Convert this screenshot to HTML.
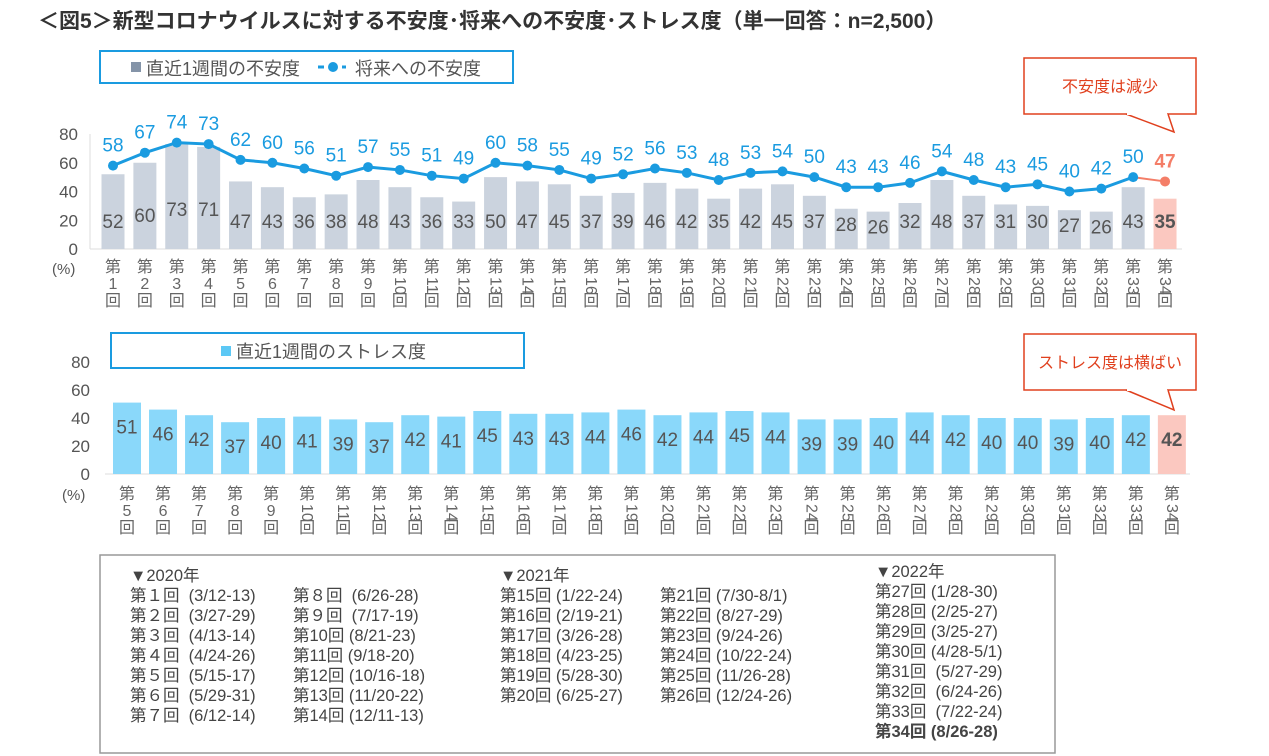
<!DOCTYPE html>
<html><head><meta charset="utf-8">
<style>
body{margin:0;width:1269px;height:756px;background:#fff;overflow:hidden;font-family:"Liberation Sans","Noto Sans CJK JP",sans-serif;}
svg{position:absolute;left:0;top:0}
text{font-family:"Liberation Sans","Noto Sans CJK JP",sans-serif}
.per{position:absolute;font-size:16.5px;color:#444;line-height:20px;white-space:pre}
</style></head><body>
<svg id="c" width="1269" height="756">
<text x="38" y="28" font-size="21" font-weight="bold" fill="#333">＜図5＞新型コロナウイルスに対する不安度･将来への不安度･ストレス度（単一回答：n=2,500）</text>
<rect x="100" y="51" width="413" height="32" fill="none" stroke="#1a9be0" stroke-width="2"/>
<rect x="131" y="62" width="10" height="10" fill="#8494a8"/>
<text x="146" y="75" font-size="18" fill="#555">直近1週間の不安度</text>
<line x1="318" y1="67" x2="346" y2="67" stroke="#1a9be0" stroke-width="3" stroke-dasharray="6,6"/>
<circle cx="333" cy="67" r="5" fill="#1a9be0"/>
<text x="355" y="75" font-size="18" fill="#555">将来への不安度</text>
<rect x="111" y="333" width="413" height="35" fill="none" stroke="#1a9be0" stroke-width="2"/>
<rect x="221" y="346" width="10" height="10" fill="#5cc8f5"/>
<text x="236" y="358" font-size="18" fill="#555">直近1週間のストレス度</text>
<rect x="1024" y="58" width="172" height="56" fill="#fff" stroke="#e0401e" stroke-width="1.5"/>
<path d="M1126,114 L1174,132 L1168,114" fill="#fff" stroke="#e0401e" stroke-width="1.5"/>
<line x1="1127" y1="114" x2="1167" y2="114" stroke="#fff" stroke-width="2"/>
<text x="1110" y="92" font-size="16" fill="#e0401e" text-anchor="middle">不安度は減少</text>
<rect x="1024" y="334" width="172" height="56" fill="#fff" stroke="#e0401e" stroke-width="1.5"/>
<path d="M1126,390 L1174,410 L1168,390" fill="#fff" stroke="#e0401e" stroke-width="1.5"/>
<line x1="1127" y1="390" x2="1167" y2="390" stroke="#fff" stroke-width="2"/>
<text x="1110" y="368" font-size="16" fill="#e0401e" text-anchor="middle">ストレス度は横ばい</text>
<rect x="100" y="555" width="955" height="198" fill="none" stroke="#999" stroke-width="1.5"/>
</svg>
<div class="per" style="left:130px;top:566px">▼2020年
第１回  (3/12-13)
第２回  (3/27-29)
第３回  (4/13-14)
第４回  (4/24-26)
第５回  (5/15-17)
第６回  (5/29-31)
第７回  (6/12-14)</div>
<div class="per" style="left:293px;top:586px">第８回  (6/26-28)
第９回  (7/17-19)
第10回 (8/21-23)
第11回 (9/18-20)
第12回 (10/16-18)
第13回 (11/20-22)
第14回 (12/11-13)</div>
<div class="per" style="left:500px;top:566px">▼2021年
第15回 (1/22-24)
第16回 (2/19-21)
第17回 (3/26-28)
第18回 (4/23-25)
第19回 (5/28-30)
第20回 (6/25-27)</div>
<div class="per" style="left:660px;top:586px">第21回 (7/30-8/1)
第22回 (8/27-29)
第23回 (9/24-26)
第24回 (10/22-24)
第25回 (11/26-28)
第26回 (12/24-26)</div>
<div class="per" style="left:875px;top:562px">▼2022年
第27回 (1/28-30)
第28回 (2/25-27)
第29回 (3/25-27)
第30回 (4/28-5/1)
第31回  (5/27-29)
第32回  (6/24-26)
第33回  (7/22-24)
<b>第34回 (8/26-28)</b></div>
<script>
const topRounds=[1,2,3,4,5,6,7,8,9,10,11,12,13,14,15,16,17,18,19,20,21,22,23,24,25,26,27,28,29,30,31,32,33,34];
const anxietyWeek=[52,60,73,71,47,43,36,38,48,43,36,33,50,47,45,37,39,46,42,35,42,45,37,28,26,32,48,37,31,30,27,26,43,35];
const anxietyFuture=[58,67,74,73,62,60,56,51,57,55,51,49,60,58,55,49,52,56,53,48,53,54,50,43,43,46,54,48,43,45,40,42,50,47];
const bottomRounds=[5,6,7,8,9,10,11,12,13,14,15,16,17,18,19,20,21,22,23,24,25,26,27,28,29,30,31,32,33,34];
const stressWeek=[51,46,42,37,40,41,39,37,42,41,45,43,43,44,46,42,44,45,44,39,39,40,44,42,40,40,39,40,42,42];
const yTicks=[0,20,40,60,80];

const svg=document.getElementById('c');const NS='http://www.w3.org/2000/svg';
function mk(t,a,txt){const e=document.createElementNS(NS,t);for(const k in a)e.setAttribute(k,a[k]);if(txt!==undefined)e.textContent=txt;svg.appendChild(e);return e;}
function axis(y0,y80){return v=>y0-(y0-y80)*v/80;}
function roundLabel(x,yTop,n,name){
  const g=mk('g',{});
  
  
  let t=mk('text',{x:x,y:yTop+15,'font-size':16,fill:'#666','text-anchor':'middle'},'第');g.appendChild(t);
  if(n<10){t=mk('text',{x:x,y:yTop+32,'font-size':16,fill:'#666','text-anchor':'middle'},String(n));g.appendChild(t);}
  else{t=mk('text',{x:x-5,y:yTop+20,'font-size':16,fill:'#666',transform:`rotate(90 ${x-5} ${yTop+20})`},String(n));g.appendChild(t);}
  t=mk('text',{x:x,y:yTop+49,'font-size':16,fill:'#666','text-anchor':'middle'},'回');g.appendChild(t);
}
// top chart
(function(){
  const Y=axis(249,134),x0=113,dx=31.88,bw=23;const X=i=>x0+i*dx;
  yTicks.forEach(v=>{const t=mk('text',{x:78,y:Y(v)+6,'font-size':17,fill:'#555','text-anchor':'end'},v);});
  mk('line',{x1:90,y1:249,x2:1182,y2:249,stroke:'#ddd'});
  mk('line',{x1:90,y1:134,x2:90,y2:249,stroke:'#ddd'});
  mk('text',{x:52,y:274,'font-size':15,fill:'#555'},'(%)');
  anxietyWeek.forEach((v,i)=>{const last=i===anxietyWeek.length-1;
    const r=mk('rect',{x:X(i)-bw/2,y:Y(v),width:bw,height:249-Y(v),fill:last?'#fbc8c0':'#cbd3de'});
    
    const t=mk('text',{x:X(i),y:0,'font-size':19,fill:'#555','text-anchor':'middle','font-weight':last?'bold':'normal'},v);
    t.setAttribute('y',Math.max(Y(v)+22,228)-(v>60?12:0)-(v>55&&v<=60?6:0));
    
    roundLabel(X(i),257,topRounds[i],'top-x-label');
  });
  let d='';anxietyFuture.slice(0,-1).forEach((v,i)=>{d+=(i?'L':'M')+X(i)+','+Y(v);});
  const p=mk('path',{d:d,fill:'none',stroke:'#1a9be0','stroke-width':3});
  const n=anxietyFuture.length;
  const l=mk('line',{x1:X(n-2),y1:Y(anxietyFuture[n-2]),x2:X(n-1),y2:Y(anxietyFuture[n-1]),stroke:'#f47e68','stroke-width':2});
  anxietyFuture.forEach((v,i)=>{const last=i===n-1;
    const c=mk('circle',{cx:X(i),cy:Y(v),r:5,fill:last?'#f47e68':'#1a9be0'});
    const t=mk('text',{x:X(i),y:Y(v)-14,'font-size':19,fill:last?'#f47e68':'#1a9be0','text-anchor':'middle','font-weight':last?'bold':'normal'},v);
    
  });
})();
// bottom chart
(function(){
  const Y=axis(474,362),x0=127,dx=36.03,bw=28;const X=i=>x0+i*dx;
  yTicks.forEach(v=>{const t=mk('text',{x:90,y:Y(v)+6,'font-size':17,fill:'#555','text-anchor':'end'},v);});
  mk('line',{x1:105,y1:474,x2:1190,y2:474,stroke:'#ddd'});
  mk('text',{x:62,y:500,'font-size':15,fill:'#555'},'(%)');
  stressWeek.forEach((v,i)=>{const last=i===stressWeek.length-1;
    const r=mk('rect',{x:X(i)-bw/2,y:Y(v),width:bw,height:474-Y(v),fill:last?'#fbc8c0':'#8ad8fa'});
    
    const t=mk('text',{x:X(i),y:Y(v)+31,'font-size':19,fill:'#555','text-anchor':'middle','font-weight':last?'bold':'normal'},v);
    
    roundLabel(X(i),484,bottomRounds[i],'bottom-x-label');
  });
})();
</script>
</body></html>
